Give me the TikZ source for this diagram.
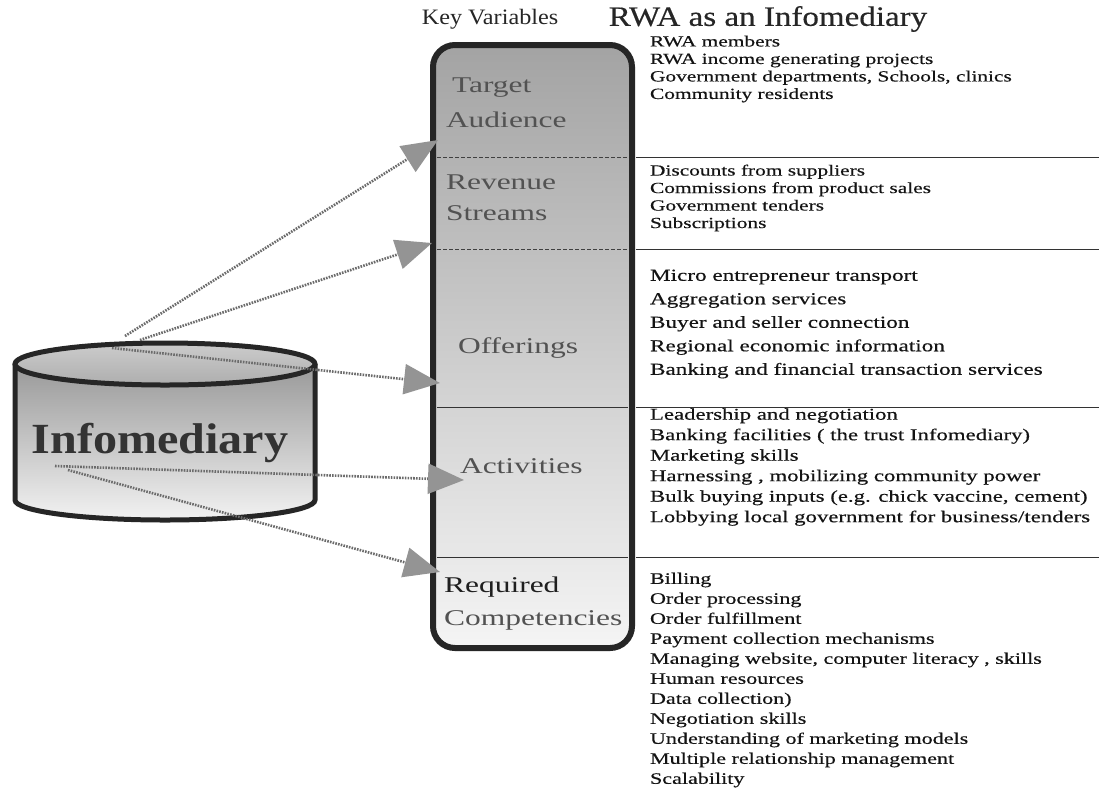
\documentclass[tikz,border=0pt]{standalone}
\usepackage{fontspec}
\setmainfont{Liberation Serif}
\newfontfamily\labelfont[FakeStretch=1.4]{Liberation Serif}
\newfontfamily\listfont[FakeStretch=1.38, FakeBold=0.35]{Liberation Serif}
\newfontfamily\kvtitlefont[FakeStretch=1.1]{Liberation Serif}
\newfontfamily\rwatitlefont[FakeStretch=1.18, FakeBold=0.4]{Liberation Serif}
\newfontfamily\cylfont[FakeStretch=1.12]{Liberation Serif}
\usetikzlibrary{arrows.meta}

\begin{document}
\begin{tikzpicture}[x=1pt,y=-1pt,
  every node/.style={inner sep=0pt, outer sep=0pt},
  kvhead/.style={font=\kvtitlefont\fontsize{22}{24}\selectfont, text=black!85},
  rwahead/.style={font=\rwatitlefont\fontsize{28}{30}\selectfont, text=black!85},
  varlabel/.style={font=\labelfont\fontsize{22.5}{24}\selectfont, text=black!68, anchor=west},
  itemlist/.style={font=\listfont\fontsize{15.5}{17.5}\selectfont, align=left, anchor=west, text=black!92},
  keybox/.style={draw=black!85, line width=6pt, rounded corners=22pt,
    top color=black!36, bottom color=black!4, middle color=black!20,
    minimum width=199pt, minimum height=603pt},
  rule/.style={line width=0.9pt, black!80},
  inrule/.style={line width=0.9pt, black!75, dash pattern=on 4pt off 2pt},
  link/.style={line width=2.6pt, black!58, dash pattern=on 1.6pt off 1.2pt,
    -{Triangle[width=30pt,length=36pt,fill=black!42,color=black!42]}},
  rim/.style={line width=5pt, black!85}
]
% canvas
\fill[white] (0,0) rectangle (1099,796);
\useasboundingbox (0,0) rectangle (1099,796);

% column headings
\node[kvhead] (hkv) at (490,19) {Key Variables};
\node[rwahead] (hrwa) at (768,19) {RWA as an Infomediary};

% key variables column
\node[keybox] (kv) at (532.5,346.5) {};
\draw[inrule] (437,157) -- (628,157);
\draw[inrule] (437,249) -- (628,249);
\draw[rule] (437,407) -- (628,407);
\draw[rule] (437,557) -- (628,557);

% separators of the item lists
\draw[rule] (636,157) -- (1099,157);
\draw[rule] (636,249) -- (1099,249);
\draw[rule] (636,407) -- (1099,407);
\draw[rule] (636,557) -- (1099,557);

\node[varlabel] (v1a) at (452,88)  {Target};
\node[varlabel] (v1b) at (446,120) {Audience};
\node[varlabel] (v2a) at (446,182) {Revenue};
\node[varlabel] (v2b) at (446,213) {Streams};
\node[varlabel] (v3)  at (458,348) {Offerings};
\node[varlabel] (v4)  at (460,466) {Activities};
\node[varlabel, text=black!88] (v5a) at (444,587) {Required};
\node[varlabel] (v5b) at (444,620) {Competencies};

% item lists
\node[itemlist] (l1) at (650,69) {RWA members\\RWA income generating projects\\Government departments, Schools, clinics\\Community residents};
\node[itemlist] (l2) at (650,198) {Discounts from suppliers\\Commissions from product sales\\Government tenders\\Subscriptions};
\node[itemlist, font=\listfont\fontsize{16.8}{23.5}\selectfont] (l3) at (650,324) {Micro entrepreneur transport\\Aggregation services\\Buyer and seller connection\\Regional economic information\\Banking and financial transaction services};
\node[itemlist, font=\listfont\fontsize{16.5}{20.5}\selectfont] (l4) at (650,467) {Leadership and negotiation\\Banking facilities ( the trust Infomediary)\\Marketing skills\\Harnessing , mobilizing community power\\Bulk buying inputs (e.g.  chick vaccine, cement)\\Lobbying local government for business/tenders};
\node[itemlist, font=\listfont\fontsize{16}{20}\selectfont] (l5) at (650,680) {Billing\\Order processing\\Order fulfillment\\Payment collection mechanisms\\Managing website, computer literacy , skills\\Human  resources\\Data collection)\\Negotiation skills\\Understanding of marketing models\\Multiple relationship management\\Scalability};

% the infomediary cylinder
\shade[top color=black!40, bottom color=black!5]
  (15,364) -- (15,500) arc[start angle=180, end angle=360, x radius=150pt, y radius=20pt] -- (315,364) -- cycle;
\draw[rim] (15,364) -- (15,500) arc[start angle=180, end angle=360, x radius=150pt, y radius=20pt] -- (315,364);
\shade[top color=black!20, bottom color=black!32] (165,364) ellipse[x radius=150pt, y radius=21pt];
\draw[rim] (165,364) ellipse[x radius=150pt, y radius=21pt];
\node[font=\cylfont\bfseries\fontsize{43}{46}\selectfont, text=black!80] (info) at (160,443) {Infomediary};

% connectors from the cylinder to the key variables
\coordinate (s1) at (125,336);
\coordinate (s2) at (140,340);
\coordinate (s3) at (112,348);
\coordinate (s4) at (55,466);
\coordinate (s5) at (68,470);
\coordinate (t1) at (438,140);
\coordinate (t2) at (432,243);
\coordinate (t3) at (440,383);
\coordinate (t4) at (464,480);
\coordinate (t5) at (440,572);
\draw[link] (s1) -- (t1);
\draw[link] (s2) -- (t2);
\draw[link] (s3) -- (t3);
\draw[link] (s4) -- (t4);
\draw[link] (s5) -- (t5);
\end{tikzpicture}
\end{document}
